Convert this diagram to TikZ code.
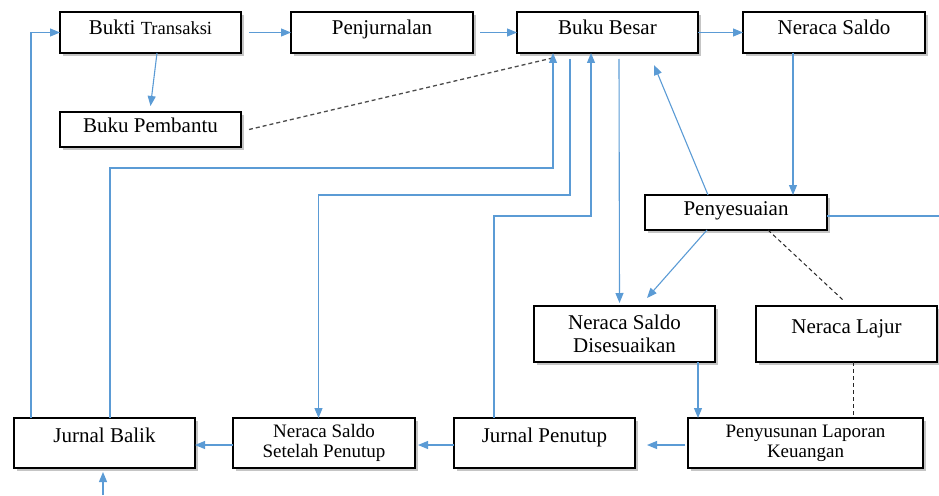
\documentclass[tikz,border=0pt]{standalone}
\usepackage{fontspec}
\setmainfont{Liberation Serif}
\usetikzlibrary{arrows.meta,shadows}
\definecolor{linkblue}{HTML}{5B9BD5}

\tikzset{%
  box/.style={draw, line width=1.8pt, fill=white, anchor=north west, inner sep=0pt, outer sep=0pt, align=center, font=\fontsize{21}{23}\selectfont, drop shadow={shadow xshift=3pt, shadow yshift=-3pt, fill=black!45}},
  onebox/.style={box, text height=14pt, text depth=9pt},
  highbox/.style={box, text height=14pt, text depth=16pt},
  smallbox/.style={box, font=\fontsize{19}{20}\selectfont},
  link/.style={draw, line width=1.1pt, color=linkblue, -{Triangle[length=10pt,width=8pt]}},
  plain/.style={draw, line width=1.1pt, color=linkblue},
  dashlink/.style={draw, line width=1.3pt, color=black!70, dash pattern=on 4pt off 3pt},
}

\begin{document}
\begin{tikzpicture}[x=1pt, y=-1pt]
\useasboundingbox (0,0) rectangle (939,495);
\node[onebox, minimum width=181pt, minimum height=41pt] (1) at (60,12) {Bukti {\fontsize{18.5}{20}\selectfont Transaksi}};
\node[onebox, minimum width=182pt, minimum height=41pt] (2) at (291,12) {Penjurnalan};
\node[onebox, minimum width=181pt, minimum height=41pt] (3) at (517,12) {Buku Besar};
\node[onebox, minimum width=182pt, minimum height=41pt] (4) at (743,12) {Neraca Saldo};
\node[onebox, minimum width=181pt, minimum height=35pt] (5) at (60,112) {Buku Pembantu};
\node[onebox, minimum width=182pt, minimum height=35pt] (6) at (645,195) {Penyesuaian};
\node[box, minimum width=181pt, minimum height=56pt] (7) at (534,306) {Neraca Saldo\\Disesuaikan};
\node[highbox, minimum width=181pt, minimum height=56pt] (8) at (756,306) {Neraca Lajur};
\node[highbox, minimum width=181pt, minimum height=50pt] (9) at (14,418) {Jurnal Balik};
\node[smallbox, minimum width=182pt, minimum height=50pt] (10) at (233,418) {Neraca Saldo\\Setelah Penutup};
\node[highbox, minimum width=181pt, minimum height=50pt] (11) at (454,418) {Jurnal Penutup};
\node[smallbox, minimum width=235pt, minimum height=50pt] (12) at (688,418) {Penyusunan Laporan\\Keuangan};
\coordinate (k1) at (553,168);
\coordinate (k2) at (318.5,195);
\coordinate (k3) at (591,216);
\coordinate (k4) at (939,216);
\coordinate (k5) at (103,495);
\draw[link] ([xshift=8pt]1.east) -- (2.west);
\draw[link] ([xshift=7pt]2.east) -- (3.west);
\draw[link] (3.east) -- (4.west);
\draw[link] ([xshift=6.5pt]1.south) -- ([yshift=6pt]5.north);
\draw[dashlink] ([xshift=8pt]5.east) -- ([xshift=-55pt,yshift=-5pt]3.south);
\draw[link] ([xshift=-73.5pt]9.north) |- (1.west);
\draw[link] ([xshift=5.5pt]9.north) |- (k1) -- ([xshift=-54.5pt]3.south);
\draw[link] ([xshift=-37.5pt,yshift=-6pt]3.south) |- (k2) -- ([xshift=-5.5pt]10.north);
\draw[link] ([xshift=-50.5pt]11.north) |- (k3) -- ([xshift=-16.5pt]3.south);
\draw[link] ([xshift=11.5pt,yshift=-6pt]3.south) -- ([xshift=-5pt,yshift=3pt]7.north);
\draw[link] ([xshift=-28pt]6.north) -- ([xshift=46.5pt,yshift=-12pt]3.south);
\draw[link] ([xshift=-41pt]4.south) -- ([xshift=57pt]6.north);
\draw[plain] ([yshift=-3.5pt]6.east) -- (k4);
\draw[link] ([xshift=-29pt]6.south) -- ([xshift=22.5pt,yshift=8pt]7.north);
\draw[dashlink, line width=1pt, color=black!85] ([xshift=32pt]6.south) -- ([xshift=-3.5pt,yshift=6pt]8.north);
\draw[link] ([xshift=73.5pt]7.south) -- ([xshift=-107.5pt]12.north);
\draw[dashlink, line width=1pt, color=black!85] ([xshift=6.5pt]8.south) -- ([xshift=47.5pt,yshift=3pt]12.north);
\draw[link] ([xshift=-3pt,yshift=-2pt]12.west) -- ([xshift=12pt,yshift=-2pt]11.east);
\draw[link] ([yshift=-2pt]11.west) -- ([xshift=3pt,yshift=-2pt]10.east);
\draw[link] ([yshift=-2pt]10.west) -- ([yshift=-2pt]9.east);
\draw[link] (k5) -- ([xshift=-1.5pt,yshift=-4pt]9.south);
\end{tikzpicture}
\end{document}
